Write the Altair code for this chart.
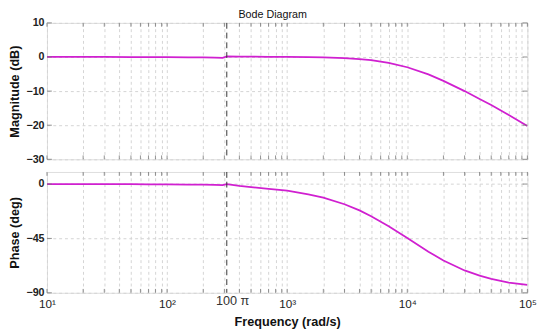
import altair as alt
import pandas as pd

freq = [10, 20, 30, 50, 70, 100, 150, 200, 250, 290, 314.16, 400, 500, 700, 1000, 1500,
        2000, 3000, 4000, 5000, 7000, 10000, 15000, 20000, 30000, 40000, 50000, 70000, 100000]
mag = [0, 0, 0, -0.02, -0.03, -0.05, -0.08, -0.12, -0.18, -0.25, 0.15, 0.12, 0.1, 0.06, 0.02,
       -0.06, -0.14, -0.35, -0.62, -0.95, -1.72, -3.0, -5.1, -7.0, -10.0, -12.3, -14.1, -17.0, -20.2]
phase = [0, -0.05, -0.1, -0.15, -0.2, -0.3, -0.4, -0.55, -0.7, -0.85, 0, -1.6, -2.6, -4.0, -5.5,
         -8.5, -11.3, -16.7, -21.8, -26.6, -35.0, -44.6, -56.0, -63.2, -71.5, -75.8, -78.5, -81.6, -83.5]

grid_x = [m * 10 ** k for k in range(1, 5) for m in range(1, 10)] + [100000]
mag_ticks = [10, 0, -10, -20, -30]
phase_ticks = [0, -45, -90]
marker_freq = 314.16

W = 493
H1 = 140
H2 = 124
FONT = "Liberation Sans"
LINE = "#d020d0"
GRID = "#d4d4d4"

df = pd.DataFrame({"freq": freq, "mag": mag, "phase": phase})
gx = pd.DataFrame({"f": grid_x})
marker = pd.DataFrame({"f": [marker_freq], "lab": ["100 π"]})

xscale = alt.Scale(type="log", domain=[10, 100000], nice=False)

label_expr = ("datum.value == 10 ? '10¹' : datum.value == 100 ? '10²' : datum.value == 1000 ? '10³' : "
              "datum.value == 10000 ? '10⁴' : datum.value == 100000 ? '10⁵' : ''")


def panel(field, ticks, domain, height, ytitle, bottom):
    if bottom:
        xaxis = alt.Axis(values=grid_x, labelExpr=label_expr, grid=True, gridDash=[3, 3],
                         gridColor=GRID, ticks=False, domain=False, labelFont=FONT,
                         labelFontSize=12, labelColor="#222", labelPadding=6,
                         labelFlush=False, labelOverlap=False,
                         title="Frequency  (rad/s)", titleFont=FONT, titleFontSize=13,
                         titleFontWeight="bold", titleColor="#111", titlePadding=7)
    else:
        xaxis = alt.Axis(values=grid_x, labels=False, grid=True, gridDash=[3, 3],
                         gridColor=GRID, ticks=False, domain=False, title=None)
    yscale = alt.Scale(domain=domain, nice=False)
    yaxis = alt.Axis(values=ticks, grid=True, gridDash=[3, 3], gridColor=GRID, ticks=False,
                     domain=False, labelFont=FONT, labelFontSize=11, labelFontWeight="bold",
                     labelColor="#222", labelPadding=3, labelOverlap=False, labelFlush=False,
                     title=ytitle, titleFont=FONT,
                     titleFontSize=13, titleFontWeight="bold", titleColor="#111", titleX=-26)

    X = lambda f: alt.X(f, scale=xscale, axis=xaxis, title=xaxis.title if bottom else None)
    Y = lambda f: alt.Y(f, scale=yscale, axis=yaxis, title=ytitle)

    line = alt.Chart(df).mark_line(color=LINE, strokeWidth=1.8, clip=True).encode(
        x=X("freq:Q"), y=Y(f"{field}:Q"))
    tick_col = "#777"
    tx_top = alt.Chart(gx).mark_rule(color=tick_col, strokeWidth=0.8).encode(
        x=X("f:Q"), y=alt.value(0), y2=alt.value(4))
    tx_bot = alt.Chart(gx).mark_rule(color=tick_col, strokeWidth=0.8).encode(
        x=X("f:Q"), y=alt.value(height), y2=alt.value(height - 4))
    yt = pd.DataFrame({"v": ticks})
    ty_l = alt.Chart(yt).mark_rule(color=tick_col, strokeWidth=0.8).encode(
        y=Y("v:Q"), x=alt.value(0), x2=alt.value(5))
    ty_r = alt.Chart(yt).mark_rule(color=tick_col, strokeWidth=0.8).encode(
        y=Y("v:Q"), x=alt.value(W), x2=alt.value(W - 5))
    vline = alt.Chart(marker).mark_rule(color="#333", strokeWidth=1, strokeDash=[6, 4]).encode(
        x=X("f:Q"), y=alt.value(0), y2=alt.value(height))
    layers = [line, tx_top, tx_bot, ty_l, ty_r, vline]
    if bottom:
        txt = alt.Chart(marker).mark_text(font=FONT, fontSize=13, color="#333", baseline="top",
                                          align="center", dx=6).encode(
            x=X("f:Q"), y=alt.value(height + 3), text="lab:N")
        layers.append(txt)
    return alt.layer(*layers).properties(width=W, height=height)


top = panel("mag", mag_ticks, [-30, 10], H1, "Magnitude (dB)", False)
bot = panel("phase", phase_ticks, [-90, 10], H2, "Phase (deg)", True)

chart = alt.vconcat(top, bot, spacing=6).properties(
    title=alt.TitleParams("Bode Diagram", font=FONT, fontSize=11, fontWeight="normal",
                          color="#111", anchor="middle", offset=-3),
    padding={"left": 0, "top": -4, "right": 5, "bottom": 0},
).configure_view(stroke="#888", strokeWidth=1).configure(background="white")

chart.save("out.html", embed_options={"renderer": "svg", "actions": False})
